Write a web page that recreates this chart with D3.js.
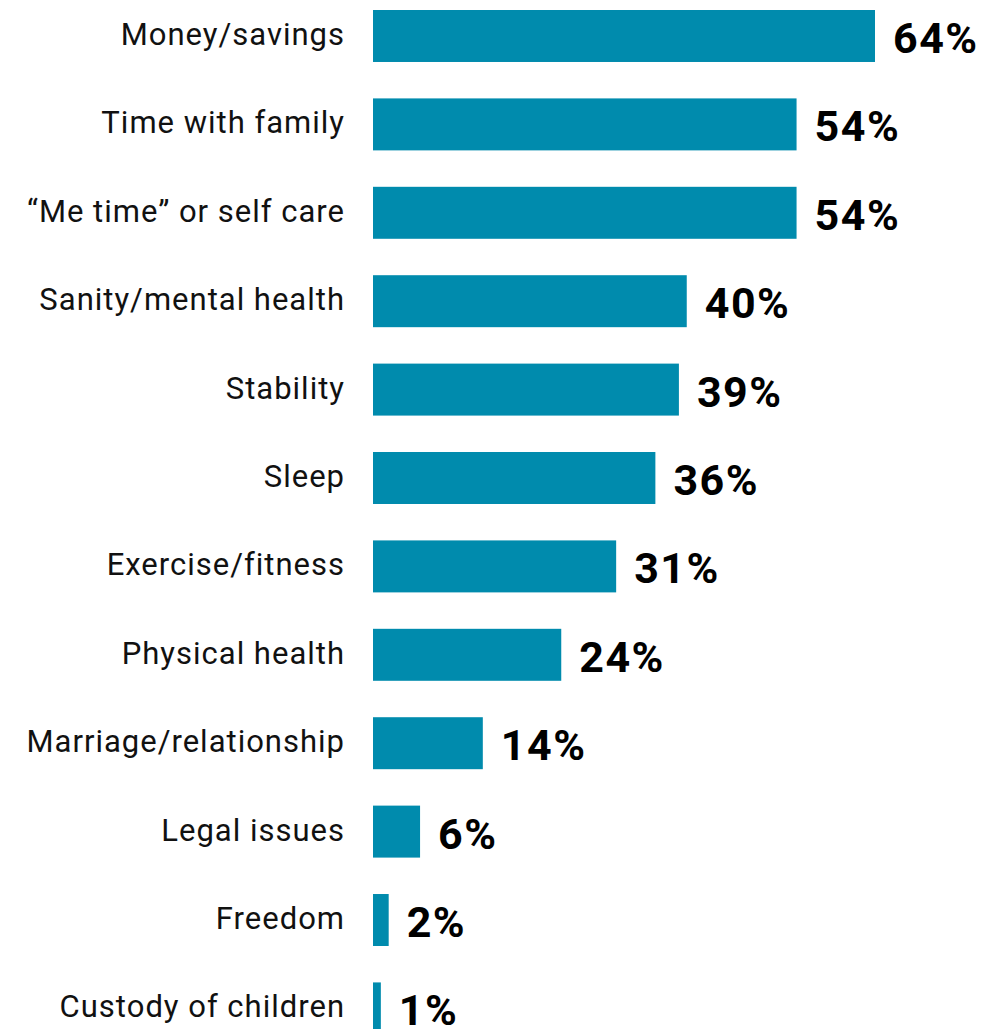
<!DOCTYPE html>
<html lang="en">
<head>
    <meta charset="UTF-8">
    <title>Priorities</title>
    <script src="https://cdn.jsdelivr.net/npm/d3@7"></script>
    <style>
        body { margin: 0; background: #fff; }
        svg { display: block; }
    </style>
</head>
<body>
    <div id="chart"></div>
    <script>
        const categories = [
            "Money/savings", "Time with family", "\u201cMe time\u201d or self care",
            "Sanity/mental health", "Stability", "Sleep", "Exercise/fitness",
            "Physical health", "Marriage/relationship", "Legal issues",
            "Freedom", "Custody of children"
        ];
        const values = [64, 54, 54, 40, 39, 36, 31, 24, 14, 6, 2, 1];

        const width = 984, height = 1029;
        const svg = d3.select("#chart").append("svg")
            .attr("width", width)
            .attr("height", height);

        // bars start at x=373, 64% reaches ~875
        const x = d3.scaleLinear().domain([0, 64]).range([373, 875]);
        const y = d3.scaleBand()
            .domain(categories)
            .range([10, 10 + 11 * 88.4 + 52])
            .paddingInner(0.412)
            .paddingOuter(0);

        const data = categories.map((c, i) => ({ cat: c, val: values[i] }));

        svg.selectAll("rect.bar")
            .data(data)
            .join("rect")
            .attr("class", "bar")
            .attr("x", x(0))
            .attr("y", d => y(d.cat))
            .attr("width", d => x(d.val) - x(0))
            .attr("height", y.bandwidth())
            .attr("fill", "#008BAD");

        // category labels (letter-spacing adds a trailing gap, so anchor a bit further right)
        svg.selectAll("text.cat")
            .data(data)
            .join("text")
            .attr("class", "cat")
            .attr("x", 345)
            .attr("y", d => y(d.cat) + y.bandwidth() / 2 + 9)
            .attr("text-anchor", "end")
            .attr("font-family", "Roboto, sans-serif")
            .attr("font-size", "31px")
            .attr("letter-spacing", "1px")
            .attr("fill", "#111")
            .text(d => d.cat);

        // value labels
        svg.selectAll("text.val")
            .data(data)
            .join("text")
            .attr("class", "val")
            .attr("x", d => x(d.val) + 18)
            .attr("y", d => y(d.cat) + y.bandwidth() / 2 + 17)
            .attr("font-family", "Roboto, sans-serif")
            .attr("font-weight", "bold")
            .attr("font-size", "43px")
            .attr("letter-spacing", "1.5px")
            .attr("fill", "#000")
            .text(d => d.val + "%");
    </script>
</body>
</html>
